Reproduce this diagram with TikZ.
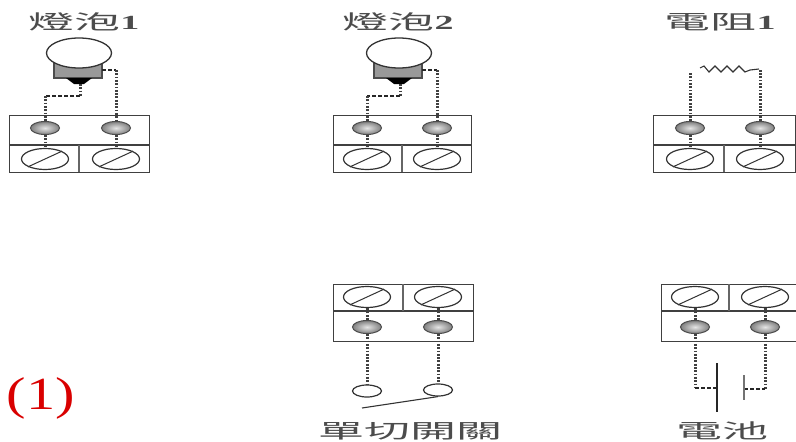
\documentclass[tikz,border=0pt]{standalone}
\usepackage{fontspec}
\usepackage{xcolor}
\usetikzlibrary{shapes.geometric}
\newfontfamily\cjk[FakeStretch=2.3]{Noto Sans CJK TC}
\newfontfamily\numfont[FakeStretch=1.9]{Liberation Serif}
\newfontfamily\bigfont[FakeStretch=1.27]{Liberation Serif}
\tikzset{frame/.style={draw=black!75, line width=1.3pt, minimum height=57pt, inner sep=0pt, anchor=north west},
	divider/.style={draw=black!60, line width=2pt},
	screw/.style={draw=black!80, ellipse, fill=white, line width=1.2pt, minimum width=47pt, minimum height=21pt, inner sep=0pt},
	slot/.style={draw=black!80, line width=1pt},
	pin/.style={draw=black!70, ellipse, inner color=black!10, outer color=black!50, line width=1pt, minimum width=29pt, minimum height=13pt, inner sep=0pt},
	wire/.style={draw=black!75, line width=3pt, dash pattern=on 1.8pt off 1.5pt},
	lead/.style={draw=black!85, line width=1.1pt, dash pattern=on 4pt off 2pt},
	title/.style={font=\cjk\fontsize{20}{20}\selectfont, text=black!70, inner sep=0pt},
	lamp/.style={draw=black!80, ellipse, fill=white, line width=1.3pt, minimum width=65pt, minimum height=30pt, inner sep=0pt},
	base/.style={draw=black!70, fill=black!40, line width=1.1pt, minimum width=48pt, minimum height=18pt, inner sep=0pt},
	contact/.style={draw=black!80, ellipse, fill=white, line width=1.2pt, minimum width=29pt, minimum height=12pt, inner sep=0pt}}

\begin{document}
\begin{tikzpicture}[x=1pt, y=-1pt]
	\useasboundingbox (0,0) rectangle (796,442);
	
	% terminal blocks, upper row
	\foreach \n/\x/\w/\a/\b in {p/9/140/45/116, q/333/138/367/437, r/653/142/690/760} {
		\node[frame, minimum width=\w pt] (box\n) at (\x,115) {};
		\draw[frame] (\x,145) -- (\x+\w,145);
		\draw[divider] (\x+\w/2,145) -- (\x+\w/2,172);
		\node[screw] (screw\n a) at (\a,159) {};
		\node[screw] (screw\n b) at (\b,159) {};
		\node[pin] (pin\n a) at (\a,128) {};
		\node[pin] (pin\n b) at (\b,128) {};
		\draw[wire] (pin\n a) -- (screw\n a);
		\draw[wire] (pin\n b) -- (screw\n b);
		\draw[slot] (screw\n a.south west) -- (screw\n a.north east);
		\draw[slot] (screw\n b.south west) -- (screw\n b.north east);
	}
	
	% terminal blocks, lower row
	\foreach \n/\x/\w/\a/\b in {s/333/140/367/438, t/661/135/695/765} {
		\node[frame, minimum width=\w pt] (box\n) at (\x,284) {};
		\draw[frame] (\x,311) -- (\x+\w,311);
		\draw[divider] (\x+\w/2,284) -- (\x+\w/2,311);
		\node[screw] (screw\n a) at (\a,297) {};
		\node[screw] (screw\n b) at (\b,297) {};
		\node[pin] (pin\n a) at (\a,327) {};
		\node[pin] (pin\n b) at (\b,327) {};
		\draw[wire] (pin\n a) -- (screw\n a);
		\draw[wire] (pin\n b) -- (screw\n b);
		\draw[slot] (screw\n a.south west) -- (screw\n a.north east);
		\draw[slot] (screw\n b.south west) -- (screw\n b.north east);
	}
	
	% lamps
	\foreach \n/\x/\a/\b in {p/0/pinpa/pinpb, q/320/pinqa/pinqb} {
		\node[base] (base\n) at (\x+78,69) {};
		\node[lamp] (lamp\n) at (\x+79,53) {};
		\fill[black] (\x+66,78) -- (\x+92,78) -- (\x+84,84) -- (\x+74,84) -- cycle;
		\coordinate (tip\n) at (\x+80,84);
		\coordinate (bendl\n) at (\x+80,96);
		\coordinate (endr\n) at (\x+102,70);
		\draw[wire] (tip\n) -- (bendl\n);
		\draw[lead] (bendl\n) -- (\a |- bendl\n);
		\draw[wire] (\a |- bendl\n) -- (\a);
		\draw[lead] (endr\n) -- (\b |- endr\n);
		\draw[wire] (\b |- endr\n) -- (\b);
	}
	
	% resistor
	\coordinate (resl) at (691,73);
	\coordinate (resr) at (759,69);
	\coordinate (zigl) at (700,68);
	\coordinate (zigr) at (750,70);
	\draw[wire] (pinra) -- (pinra |- resl);
	\draw[wire] (pinrb) -- (pinrb |- resr);
	\draw[black!80, line width=1.1pt] (zigl) -- ++(4,-2) -- ++(5,6) -- ++(6,-6) -- ++(6,6) -- ++(6,-6) -- ++(6,6) -- ++(6,-6) -- ++(6,6) -- (zigr) -- (resr);
	
	% switch
	\node[contact] (swl) at (367,391) {};
	\node[contact] (swr) at (438,390) {};
	\coordinate (swend) at (362,408);
	\draw[wire] (pinsa) -- (swl);
	\draw[wire] (pinsb) -- (swr);
	\draw[black!80, line width=1.1pt] (swend) -- (swr.south);
	
	% battery
	\coordinate (batl) at (695,388);
	\coordinate (batr) at (765,389);
	\coordinate (plusa) at (717,363);
	\coordinate (plusb) at (717,412);
	\coordinate (minusa) at (744,375);
	\coordinate (minusb) at (744,400);
	\draw[wire] (pinta) -- (batl);
	\draw[wire] (pintb) -- (batr);
	\draw[lead] (batl) -- (plusa |- batl);
	\draw[lead] (minusa |- batr) -- (batr);
	\draw[black!85, line width=2pt] (plusa) -- (plusb);
	\draw[black!55, line width=2pt] (minusa) -- (minusb);
	
	% labels
	\node[title] (lblp) at (84,22) {燈泡{\numfont\bfseries 1}};
	\node[title] (lblq) at (398,22) {燈泡{\numfont\bfseries 2}};
	\node[title] (lblr) at (720,22) {電阻{\numfont\bfseries 1}};
	\node[title] (lbls) at (410,431) {單切開關};
	\node[title] (lblt) at (722,431) {電池};
	\node[font=\bigfont\fontsize{46}{46}\selectfont, text=red!85!black, inner sep=0pt] (lblnum) at (41,398) {(1)};
\end{tikzpicture}
\end{document}
